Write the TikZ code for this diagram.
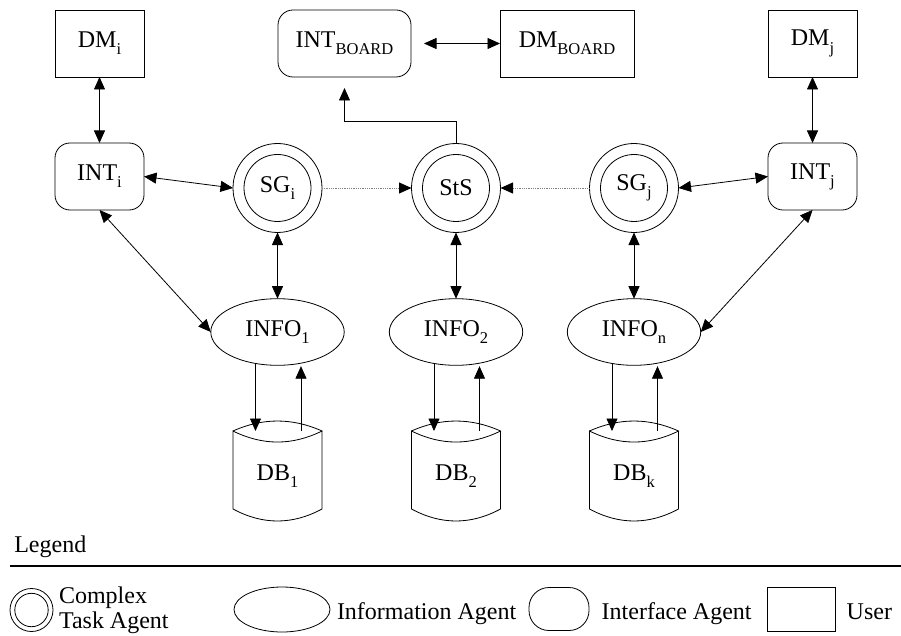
\documentclass[tikz,border=0pt]{standalone}
\usepackage{fontspec}
\setmainfont{Liberation Serif}
\usetikzlibrary{arrows.meta,shapes.geometric}
% lowered, smaller index text
\newcommand\lo[1]{\raisebox{-0.3em}{\fontsize{16.5}{18}\selectfont #1}}

\begin{document}
\begin{tikzpicture}[x=1pt,y=-1pt,
  every node/.style={font=\fontsize{24}{28}\selectfont, inner sep=0pt, outer sep=0pt},
  line/.style={line width=0.8pt},
  link/.style={line, {Triangle[length=12.5pt,width=11pt]}-{Triangle[length=12.5pt,width=11pt]}},
  oneway/.style={line, -{Triangle[length=12.5pt,width=11pt]}},
  dotlink/.style={line, densely dotted, gray, -{Triangle[length=12.5pt,width=11pt,color=black]}},
  user/.style={draw, line, rectangle, minimum width=89pt, minimum height=67pt},
  wideuser/.style={user, minimum width=134pt},
  iface/.style={draw, line, rectangle, rounded corners=15pt, minimum width=89pt, minimum height=67pt},
  task/.style={draw, line, circle, minimum size=89pt,
    path picture={\draw[line width=0.8pt] (path picture bounding box.center) circle (33.5pt);}},
  info/.style={draw, line, ellipse, minimum width=133.4pt, minimum height=66.6pt},
  store/.style={rectangle, minimum width=89pt, minimum height=90pt}
]
\useasboundingbox (0,0) rectangle (901,636);

% top row
\node[user] (DMi) at (99.5,43.5) {DM\lo{i}};
\node[iface, minimum width=133pt] (INTB) at (344.5,43.5) {INT\lo{BOARD}};
\node[wideuser] (DMB) at (567,43.5) {DM\lo{BOARD}};
\node[user] (DMj) at (812.5,43.5) {DM\lo{j}};

% agents row
\node[iface] (INTi) at (99.5,176.5) {INT\lo{i}};
\node[task] (SGi) at (277.5,188) {SG\lo{i}};
\node[task] (StS) at (456,188) {StS};
\node[task] (SGj) at (634,188) {SG\lo{j}};
\node[iface] (INTj) at (812.5,176.5) {INT\lo{j}};

% information agents
\node[info] (INFO1) at (277.5,332) {INFO\lo{1}};
\node[info] (INFO2) at (456,332) {INFO\lo{2}};
\node[info] (INFOn) at (634,332) {INFO\lo{n}};

% data stores
\node[store] (DB1) at (277.5,476) {DB\lo{1}};
\node[store] (DB2) at (456,476) {DB\lo{2}};
\node[store] (DBk) at (634,476) {DB\lo{k}};
\foreach \n in {DB1,DB2,DBk}{
  \draw[line] ([shift={(-44.5,-45)}]\n.center)
      .. controls +(29.7,-13.3) and +(-29.7,-13.3) .. ([shift={(44.5,-45)}]\n.center)
      .. controls +(-29.7,14.7) and +(29.7,14.7) .. ([shift={(-44.5,-45)}]\n.center)
      -- ([shift={(-44.5,33)}]\n.center)
      .. controls +(29.7,16) and +(-29.7,16) .. ([shift={(44.5,33)}]\n.center)
      -- ([shift={(44.5,-45)}]\n.center);
}

% connectors
\draw[link] (DMi) -- (INTi);
\draw[link] (DMj) -- (INTj);
\draw[link, shorten <=13pt] (INTB) -- (DMB);
\draw[oneway, shorten >=11pt] (StS.north) -- ++(0,-22) -| (INTB.south);
\draw[link] (INTi.east) -- (SGi.west);
\draw[link] (SGj.east) -- (INTj.west);
\draw[dotlink] (SGi) -- (StS);
\draw[dotlink] (SGj) -- (StS);
\draw[link] (SGi) -- (INFO1);
\draw[link] (StS) -- (INFO2);
\draw[link] (SGj) -- (INFOn);
\draw[link] (INTi.south) -- (INFO1.west);
\draw[link] (INTj.south) -- (INFOn.east);
\foreach \a/\b in {INFO1/DB1,INFO2/DB2,INFOn/DBk}{
  \draw[oneway] (\a.-125) -- (\a.-125 |- \b.north);
  \draw[oneway, shorten >=3pt] (\a.-53.6 |- \b.north) -- (\a.-53.6);
}

% legend
\node[anchor=base west] (lgTitle) at (14.3,552) {Legend};
\coordinate (lgL) at (10,566);
\coordinate (lgR) at (901,566);
\draw[line width=1.8pt] (lgL) -- (lgR);
\node[draw, line, circle, minimum size=43pt,
  path picture={\draw[line width=0.8pt] (path picture bounding box.center) circle (16.7pt);}]
  (lgTask) at (31.5,610) {};
\node[anchor=base west] (lgTaskA) at (59,603) {Complex};
\node[anchor=base west] (lgTaskB) at (59,628) {Task Agent};
\node[draw, line, ellipse, minimum width=96pt, minimum height=45pt] (lgInfo) at (282,609.5) {};
\node[anchor=base west] (lgInfoT) at (337,619) {Information Agent};
\node[draw, line, rectangle, rounded corners=20pt, minimum width=60pt, minimum height=43pt] (lgIface) at (559,609) {};
\node[anchor=base west] (lgIfaceT) at (601.7,619) {Interface Agent};
\node[draw, line, rectangle, minimum width=68pt, minimum height=44pt] (lgUser) at (801.7,609.7) {};
\node[anchor=base west] (lgUserT) at (846.7,619) {User};
\end{tikzpicture}
\end{document}
